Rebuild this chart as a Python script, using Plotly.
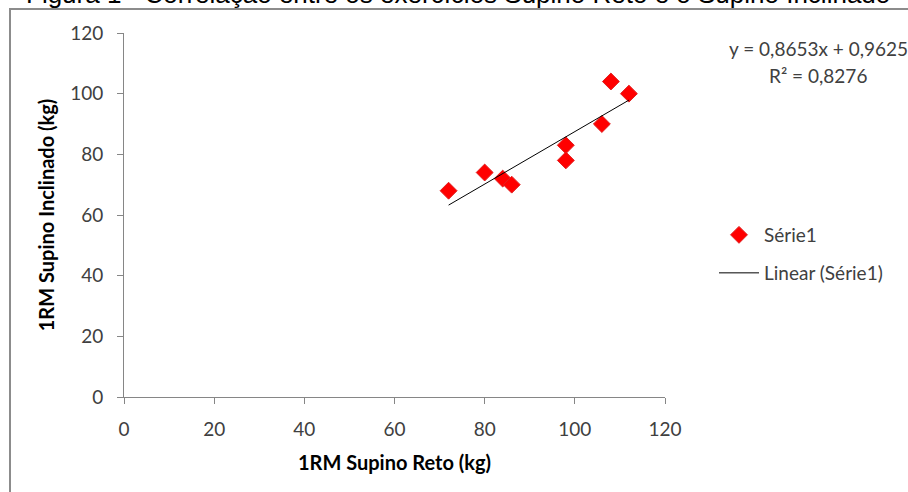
import plotly.graph_objects as go

# Data
supino_reto = [72, 80, 84, 86, 98, 98, 106, 108, 112]
supino_inclinado = [68, 74, 72, 70, 83, 78, 90, 104, 100]

x_ticks = [0, 20, 40, 60, 80, 100, 120]
y_ticks = [0, 20, 40, 60, 80, 100, 120]

slope = 0.8653
intercept = 0.9625
equation_label = "y = 0,8653x + 0,9625"
r2_label = "R² = 0,8276"

title_text = "Figura 1 - Correlação entre os exercícios Supino Reto e o Supino Inclinado"
x_title = "1RM Supino Reto (kg)"
y_title = "1RM Supino Inclinado (kg)"
series_name = "Série1"
trend_name = "Linear (Série1)"

trend_x = [min(supino_reto), max(supino_reto)]
trend_y = [slope * v + intercept for v in trend_x]

W, H = 908, 492
L, R, T, B = 124, 243, 33, 95
pw, ph = W - L - R, H - T - B

def px_x(p):
    return (p - L) / pw

def px_y(p):
    return (H - B - p) / ph

FONT = "Lato"
TXT = "#404040"
AX = "#868686"

fig = go.Figure()
fig.add_trace(go.Scatter(
    x=supino_reto, y=supino_inclinado, mode="markers", name=series_name,
    marker=dict(symbol="diamond", size=13, color="#FF0000",
                line=dict(color="#E02020", width=1)),
    legend="legend",
))
fig.add_trace(go.Scatter(
    x=trend_x, y=trend_y, mode="lines", name=trend_name,
    line=dict(color="#000000", width=1),
    legend="legend2",
))

axis_common = dict(
    showgrid=False, zeroline=False, showline=True, linecolor=AX, linewidth=1,
    ticks="outside", ticklen=6, tickcolor=AX, tickwidth=1,
    tickfont=dict(family=FONT, size=19, color=TXT),
    range=[0, 120],
)

fig.update_layout(
    width=W, height=H,
    margin=dict(l=L, r=R, t=T, b=B, autoexpand=False),
    paper_bgcolor="white", plot_bgcolor="white",
    showlegend=True,
    xaxis=dict(**axis_common, tickvals=x_ticks,
               ticklabelstandoff=9,
               title=dict(text="<b>" + x_title + "</b>", standoff=17,
                          font=dict(family=FONT, size=20, color="#000000"))),
    yaxis=dict(**axis_common, tickvals=y_ticks,
               ticklabelstandoff=10,
               title=dict(text="<b>" + y_title + "</b>", standoff=10,
                          font=dict(family=FONT, size=20, color="#000000"))),
    legend=dict(x=px_x(714), y=px_y(235), xanchor="left", yanchor="middle",
                font=dict(family=FONT, size=19, color=TXT),
                bgcolor="rgba(0,0,0,0)", itemwidth=40),
    legend2=dict(x=px_x(714), y=px_y(273), xanchor="left", yanchor="middle",
                 font=dict(family=FONT, size=19, color=TXT),
                 bgcolor="rgba(0,0,0,0)", itemwidth=40),
    shapes=[dict(type="rect", xref="paper", yref="paper",
                 x0=px_x(10), x1=px_x(1200), y0=px_y(800), y1=px_y(9),
                 line=dict(color="#8c8c8c", width=2), fillcolor="rgba(0,0,0,0)",
                 layer="below")],
    annotations=[
        dict(text=title_text, xref="paper", yref="paper", x=px_x(458), y=px_y(-6),
             xanchor="center", yanchor="middle", showarrow=False,
             font=dict(family="Liberation Sans", size=26, color="#000000")),
        dict(text=equation_label, xref="paper", yref="paper",
             x=px_x(818), y=px_y(49), xanchor="center", yanchor="middle",
             showarrow=False, font=dict(family=FONT, size=19, color=TXT)),
        dict(text=r2_label, xref="paper", yref="paper",
             x=px_x(818), y=px_y(75), xanchor="center", yanchor="middle",
             showarrow=False, font=dict(family=FONT, size=19, color=TXT)),
    ],
)

fig.write_html("out.html", config={"displayModeBar": False},
               post_script="document.body.style.margin='0';")
